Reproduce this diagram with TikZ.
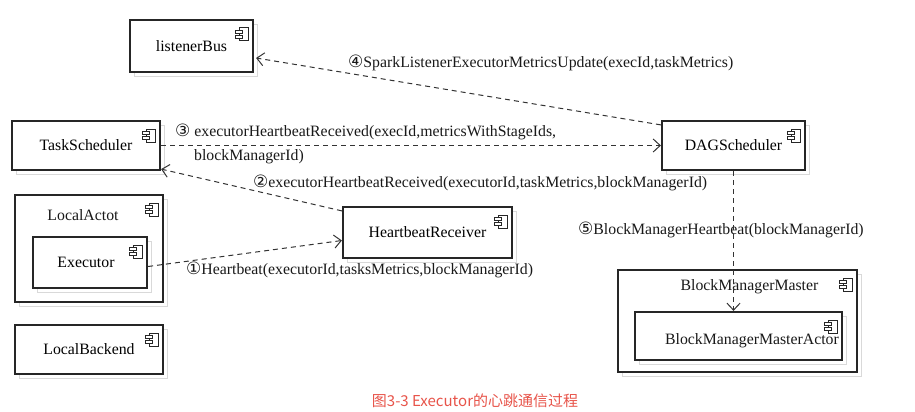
\documentclass[tikz,border=0pt]{standalone}
\usepackage{fontspec}
\setmainfont{Liberation Serif}
\newfontfamily\circfont{DejaVu Sans}
\newfontfamily\cjkfont{Noto Sans CJK SC}
\usetikzlibrary{arrows.meta,shadows}
\definecolor{captred}{RGB}{232,84,74}
\tikzset{
  comp/.style={draw=black!85, line width=2.2pt, fill=white, rectangle, inner sep=0pt,
    font=\fontsize{15.8}{18}\selectfont,
    drop shadow={shadow xshift=4pt, shadow yshift=-4pt, fill=none, draw=black!15, line width=0.8pt, opacity=1}},
  lbl/.style={inner sep=0pt, font=\fontsize{15.8}{18}\selectfont, text=black!90},
  msg/.style={draw=black!80, line width=1pt, dash pattern=on 5pt off 4pt,
    -{Straight Barb[length=7pt,width=13pt,line width=1pt]}},
}
\newcommand{\circn}[1]{{\circfont\fontsize{17}{18}\selectfont #1}}
\newcommand{\compicon}[1]{%
  \begin{scope}[shift={(#1.north east)}, line width=0.8pt]
    \draw[black!85, fill=white] (-15,9) rectangle (-6,22);
    \draw[black!85, fill=white] (-19,11.5) rectangle (-12,14.5);
    \draw[black!85, fill=white] (-19,16.5) rectangle (-12,19.5);
  \end{scope}}
\begin{document}
\begin{tikzpicture}[x=1pt, y=-1pt]
\fill[white] (0,0) rectangle (915,412);
\useasboundingbox (0,0) rectangle (915,412);

% boxes
\node[comp, minimum width=123pt, minimum height=52pt] (lb) at (191.5,46) {listenerBus};
\node[comp, minimum width=148pt, minimum height=49pt] (ts) at (86,145.5) {TaskScheduler};
\node[comp, minimum width=148pt, minimum height=107pt] (la) at (89,248.5) {};
\node[lbl] (laT) at (83,215) {LocalActot};
\node[comp, minimum width=114pt, minimum height=51pt, text depth=0pt] (ex) at (90,262.5) {\hspace*{-8pt}Executor};
\node[comp, minimum width=148pt, minimum height=49pt] (lbk) at (89,349.5) {LocalBackend};
\node[comp, minimum width=169pt, minimum height=51pt] (hb) at (427.5,232.5) {HeartbeatReceiver};
\node[comp, minimum width=143pt, minimum height=49pt] (dag) at (733.5,145.5) {DAGScheduler};
\node[comp, minimum width=239pt, minimum height=102pt] (bmm) at (737.5,321) {};
\node[lbl] (bmmT) at (749.5,287) {BlockManagerMaster};
\node[comp, minimum width=207pt, minimum height=48pt] (bmma) at (738.5,336) {};
\node[lbl] (bmmaT) at (752,341) {BlockManagerMasterActor};

\foreach \n in {lb,ts,la,ex,lbk,hb,dag,bmm,bmma} {\compicon{\n}}

% labels
\node[lbl, anchor=west] (l4) at (348,63) {\circn{④}SparkListenerExecutorMetricsUpdate(execId,taskMetrics)};
\node[lbl, anchor=west] (l3a) at (175,132) {\circn{③} executorHeartbeatReceived(execId,metricsWithStageIds,};
\node[lbl, anchor=west] (l3b) at (194,157) {blockManagerId)};
\node[lbl, anchor=west] (l2) at (253,183) {\circn{②}executorHeartbeatReceived(executorId,taskMetrics,blockManagerId)};
\node[lbl, anchor=west] (l5) at (578,230) {\circn{⑤}BlockManagerHeartbeat(blockManagerId)};
\node[lbl, anchor=west] (l1) at (186,270) {\circn{①}Heartbeat(executorId,tasksMetrics,blockManagerId)};

% connectors
\draw[msg] ([yshift=-4pt]ex.east) -- ([yshift=-8pt]hb.west);
\draw[msg] ([yshift=-5pt]hb.north west) -- ([yshift=2pt]ts.south east);
\draw[msg] (ts.east) -- (dag.west);
\draw[msg] ([yshift=-5pt]dag.north west) -- ([yshift=-12pt,xshift=2pt]lb.east);
\draw[msg] (dag.south) -- (dag.south |- bmma.north);

% caption
\node[font=\cjkfont\fontsize{15}{18}\selectfont, text=captred, inner sep=0pt] (cap) at (475,401) {图3-3 Executor的心跳通信过程};
\end{tikzpicture}
\end{document}
